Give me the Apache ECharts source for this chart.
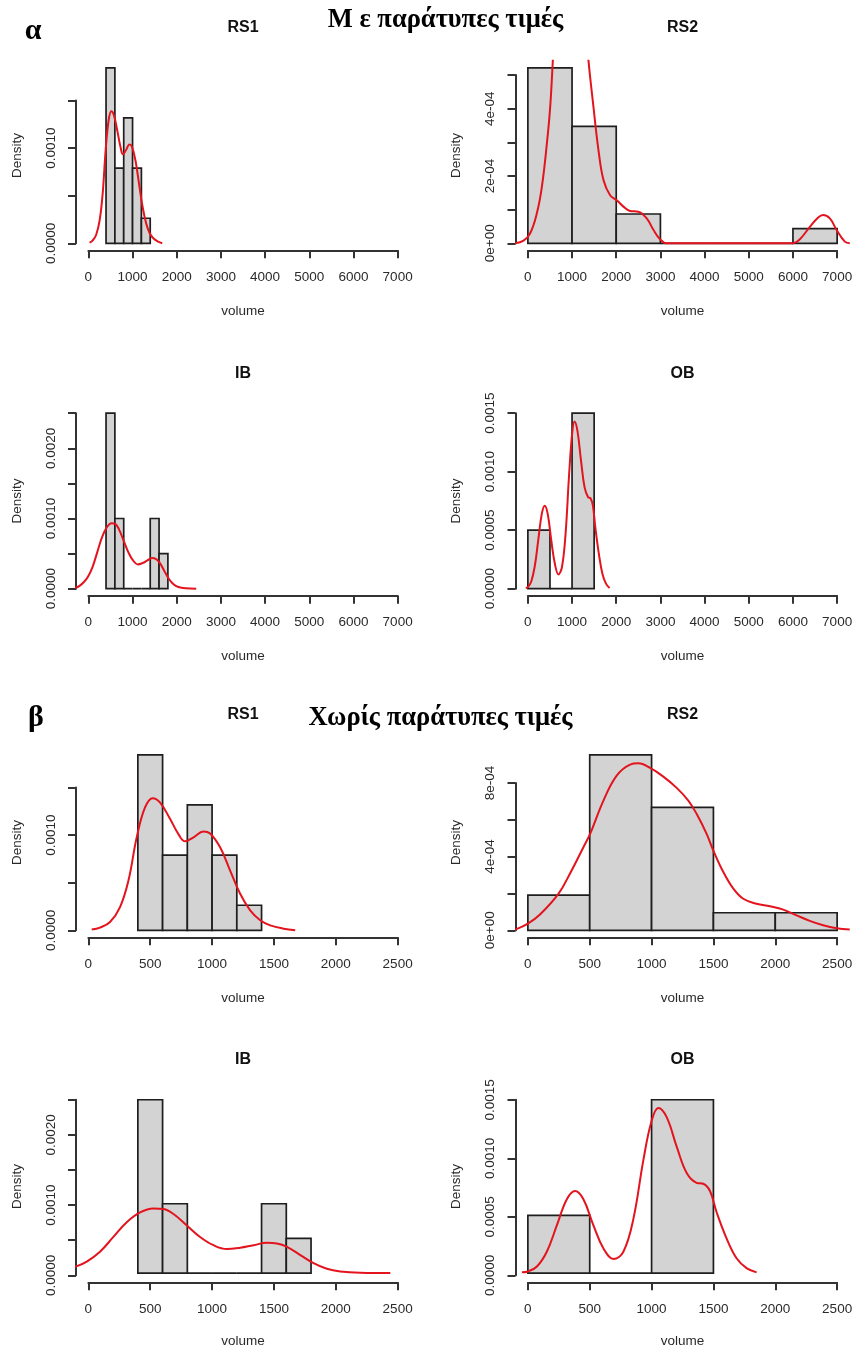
<!DOCTYPE html>
<html><head><meta charset="utf-8">
<script src="https://cdn.jsdelivr.net/npm/echarts@6/dist/echarts.min.js"></script>
<style>html,body{margin:0;padding:0;background:#fff}#c{width:856px;height:1349px}</style>
</head><body><div id="c"></div>
<script>
// ================= DATA =================
// tick labels
const xTicksWide = [0, 1000, 2000, 3000, 4000, 5000, 6000, 7000];
const xTicksNarrow = [0, 500, 1000, 1500, 2000, 2500];
const yLabelsRS1 = ['0.0000', '', '0.0010', ''];
const yLabelsIB = ['0.0000', '', '0.0010', '', '0.0020', ''];
const yLabelsOB = ['0.0000', '0.0005', '0.0010', '0.0015'];
const yLabelsRS2All = ['0e+00', '', '2e-04', '', '4e-04', ''];
const yLabelsRS2 = ['0e+00', '', '4e-04', '', '8e-04'];

// RS1 histogram (same data in α and β)
const rs1Breaks = [400, 600, 800, 1000, 1200, 1400];
const rs1Density = [0.001842, 0.000789, 0.001316, 0.000789, 0.000263];
const rs1CurveX = [27, 94, 175, 256, 324, 391, 458, 520, 580, 661, 728, 782, 850, 930, 984, 1065, 1146, 1227, 1308, 1389, 1470, 1578, 1672];
const rs1CurveY = [0.000007, 0.000028, 0.000087, 0.000244, 0.000523, 0.000976, 0.001289, 0.001387, 0.001341, 0.001167, 0.001010, 0.000934, 0.000976, 0.001038, 0.001017, 0.000871, 0.000627, 0.000383, 0.000209, 0.000105, 0.000052, 0.000017, 0.000001];

// RS2 with outliers (α)
const rs2AllBreaks = [0, 1000, 2000, 3000, 4000, 5000, 6000, 7000];
const rs2AllDensity = [5.217e-4, 3.478e-4, 0.870e-4, 0, 0, 0, 0.435e-4];
const rs2AllCurveX = [-286, -98, 53, 203, 317, 430, 505, 565, 580, 970, 1360, 1372, 1485, 1598, 1711, 1861, 2012, 2163, 2313, 2502, 2690, 2841, 2992, 3142, 6006, 6157, 6383, 6571, 6684, 6835, 6986, 7174, 7287];
const rs2AllCurveY = [0, 0.08e-4, 0.30e-4, 0.89e-4, 1.68e-4, 2.96e-4, 4.05e-4, 5.43e-4, 5.8e-4, null, 5.8e-4, 5.43e-4, 4.05e-4, 2.77e-4, 1.88e-4, 1.43e-4, 1.28e-4, 1.09e-4, 0.96e-4, 0.94e-4, 0.74e-4, 0.40e-4, 0.12e-4, 0, 0, 0.12e-4, 0.49e-4, 0.77e-4, 0.84e-4, 0.74e-4, 0.40e-4, 0.05e-4, 0];

// IB histogram (same in α and β)
const ibBreaks = [400, 600, 800, 1000, 1200, 1400, 1600, 1800];
const ibDensity = [0.0025, 0.0010, 0, 0, 0, 0.0010, 0.0005];
const ibCurveX = [-300, -200, -100, -13, 94, 202, 310, 418, 526, 607, 688, 796, 903, 1011, 1119, 1227, 1335, 1443, 1524, 1605, 1713, 1820, 1928, 2036, 2198, 2441];
const ibCurveY = [0.00001, 0.00004, 0.0000947, 0.000166, 0.000308, 0.000521, 0.000734, 0.000876, 0.000933, 0.000923, 0.000852, 0.000687, 0.000521, 0.000402, 0.000346, 0.000365, 0.000402, 0.000436, 0.000426, 0.000379, 0.000260, 0.000142, 0.0000616, 0.0000237, 0.0000047, 0];

// OB histogram (same in α and β)
const obBreaks = [0, 500, 1000, 1500];
const obDensity = [0.0005, 0, 0.0015];
const obCurveX = [-48, 0, 73, 153, 234, 315, 382, 449, 530, 611, 692, 772, 853, 934, 1001, 1055, 1122, 1203, 1284, 1364, 1418, 1472, 1526, 1607, 1687, 1768, 1849];
const obCurveY = [0.000006, 0.000014, 0.000057, 0.000185, 0.000412, 0.000639, 0.000710, 0.000639, 0.000412, 0.000213, 0.000122, 0.000185, 0.000469, 0.000980, 0.001321, 0.001429, 0.001349, 0.001094, 0.000866, 0.000781, 0.000773, 0.000710, 0.000526, 0.000298, 0.000128, 0.000043, 0.000006];

// RS2 without outliers (β)
const rs2Breaks = [0, 500, 1000, 1500, 2000, 2500];
const rs2Density = [1.905e-4, 9.524e-4, 6.667e-4, 0.952e-4, 0.952e-4];
const rs2CurveX = [-102, 0, 100, 248, 342, 449, 503, 611, 718, 826, 893, 988, 1095, 1203, 1297, 1364, 1445, 1499, 1580, 1661, 1741, 1849, 1956, 2064, 2172, 2279, 2387, 2495, 2602];
const rs2CurveY = [0.036e-4, 0.36e-4, 0.87e-4, 1.99e-4, 3.10e-4, 4.51e-4, 5.23e-4, 7.04e-4, 8.39e-4, 8.99e-4, 9.06e-4, 8.81e-4, 8.34e-4, 7.73e-4, 7.04e-4, 6.32e-4, 5.23e-4, 4.33e-4, 3.16e-4, 2.26e-4, 1.71e-4, 1.44e-4, 1.30e-4, 1.12e-4, 0.81e-4, 0.51e-4, 0.27e-4, 0.11e-4, 0.04e-4];

// ================= LAYOUT =================
const LEFT_X = [76, 515.5];
const PLOT_W = 334;
const ROW_BOTTOM = [250.3, 595.7, 937.3, 1282.3];
const PLOT_H = 189.5;
const EXT = 0.04;

const panels = [
  {row: 0, col: 0, title: 'RS1', breaks: rs1Breaks, dens: rs1Density, cx: rs1CurveX, cy: rs1CurveY, xTicks: xTicksWide, yStep: 0.0005, yLabels: yLabelsRS1},
  {row: 0, col: 1, title: 'RS2', breaks: rs2AllBreaks, dens: rs2AllDensity, cx: rs2AllCurveX, cy: rs2AllCurveY, xTicks: xTicksWide, yStep: 1e-4, yLabels: yLabelsRS2All},
  {row: 1, col: 0, title: 'IB', breaks: ibBreaks, dens: ibDensity, cx: ibCurveX, cy: ibCurveY, xTicks: xTicksWide, yStep: 0.0005, yLabels: yLabelsIB},
  {row: 1, col: 1, title: 'OB', breaks: obBreaks, dens: obDensity, cx: obCurveX, cy: obCurveY, xTicks: xTicksWide, yStep: 0.0005, yLabels: yLabelsOB},
  {row: 2, col: 0, title: 'RS1', breaks: rs1Breaks, dens: rs1Density, cx: rs1CurveX, cy: rs1CurveY, xTicks: xTicksNarrow, yStep: 0.0005, yLabels: yLabelsRS1},
  {row: 2, col: 1, title: 'RS2', breaks: rs2Breaks, dens: rs2Density, cx: rs2CurveX, cy: rs2CurveY, xTicks: xTicksNarrow, yStep: 2e-4, yLabels: yLabelsRS2},
  {row: 3, col: 0, title: 'IB', breaks: ibBreaks, dens: ibDensity, cx: ibCurveX, cy: ibCurveY, xTicks: xTicksNarrow, yStep: 0.0005, yLabels: yLabelsIB},
  {row: 3, col: 1, title: 'OB', breaks: obBreaks, dens: obDensity, cx: obCurveX, cy: obCurveY, xTicks: xTicksNarrow, yStep: 0.0005, yLabels: yLabelsOB}
];

const SANS = '"Liberation Sans", Arial, sans-serif';
const SERIF = '"Liberation Serif", "Times New Roman", serif';
const AXIS_COLOR = '#333';
const TEXT_COLOR = '#2a2a2a';

const grids = [], xAxes = [], yAxes = [], series = [], graphics = [];

panels.forEach((p, i) => {
  const xlo = p.xTicks[0], xhi = p.xTicks[p.xTicks.length - 1];
  const xr = xhi - xlo;
  const ymax = Math.max(...p.dens);
  const left = LEFT_X[p.col], bottom = ROW_BOTTOM[p.row], top = bottom - PLOT_H;
  const sx = PLOT_W / (xr * (1 + 2 * EXT));
  const sy = PLOT_H / (ymax * (1 + 2 * EXT));
  const gPlot = 2 * i, gAxis = 2 * i + 1;

  // plot region (R 'plot' region with 4% extension)
  grids.push({left: left, top: top, width: PLOT_W, height: PLOT_H});
  xAxes.push({
    gridIndex: gPlot, type: 'value', min: xlo - EXT * xr, max: xhi + EXT * xr,
    axisLine: {show: false, onZero: false}, axisTick: {show: false}, axisLabel: {show: false}, splitLine: {show: false},
    name: 'volume', nameLocation: 'middle', nameGap: 54,
    nameTextStyle: {fontFamily: SANS, fontSize: 13.5, color: TEXT_COLOR}
  });
  yAxes.push({
    gridIndex: gPlot, type: 'value', min: -EXT * ymax, max: (1 + EXT) * ymax,
    axisLine: {show: false, onZero: false}, axisTick: {show: false}, axisLabel: {show: false}, splitLine: {show: false},
    name: 'Density', nameLocation: 'middle', nameGap: 52, nameRotate: 90,
    nameTextStyle: {fontFamily: SANS, fontSize: 13.5, color: TEXT_COLOR}
  });

  // axis region (axes span first tick to last tick, offset like R)
  const yTop = (p.yLabels.length - 1) * p.yStep;
  const px0 = left + EXT * xr * sx, px1 = px0 + xr * sx;
  const py0 = bottom - EXT * ymax * sy, pyT = py0 - yTop * sy;
  grids.push({left: px0, top: pyT, width: px1 - px0, height: py0 - pyT});
  const xStep = p.xTicks[1] - p.xTicks[0];
  xAxes.push({
    gridIndex: gAxis, type: 'value', min: xlo, max: xhi, interval: xStep,
    position: 'bottom', offset: bottom - py0,
    axisLine: {show: true, onZero: false, lineStyle: {color: AXIS_COLOR, width: 2}},
    axisTick: {show: true, length: 8, lineStyle: {color: AXIS_COLOR, width: 2}},
    splitLine: {show: false},
    axisLabel: {
      show: true, margin: 20, fontFamily: SANS, fontSize: 13.5, color: TEXT_COLOR,
      showMinLabel: true, showMaxLabel: true,
      formatter: v => { const k = p.xTicks.findIndex(t => Math.abs(t - v) < xStep / 100); return k >= 0 ? String(p.xTicks[k]) : ''; }
    }
  });
  yAxes.push({
    gridIndex: gAxis, type: 'value', min: 0, max: yTop, interval: p.yStep,
    position: 'left', offset: px0 - left,
    axisLine: {show: true, onZero: false, lineStyle: {color: AXIS_COLOR, width: 2}},
    axisTick: {show: true, length: 8, lineStyle: {color: AXIS_COLOR, width: 2}},
    splitLine: {show: false},
    axisLabel: {
      show: true, margin: 18, rotate: 90, fontFamily: SANS, fontSize: 13.5, color: TEXT_COLOR,
      showMinLabel: true, showMaxLabel: true,
      formatter: v => { const k = Math.round(v / p.yStep); return (Math.abs(v - k * p.yStep) < p.yStep / 100 && p.yLabels[k] !== undefined) ? p.yLabels[k] : ''; }
    }
  });

  // histogram bars
  series.push({
    type: 'custom', xAxisIndex: gPlot, yAxisIndex: gPlot, clip: false, silent: true,
    data: p.dens.map((d, k) => [p.breaks[k], p.breaks[k + 1], d]),
    encode: {x: [0, 1], y: 2},
    renderItem: (params, api) => {
      const a = api.coord([api.value(0), 0]);
      const b = api.coord([api.value(1), api.value(2)]);
      return {
        type: 'polygon',
        shape: {points: [[a[0], a[1]], [b[0], a[1]], [b[0], b[1]], [a[0], b[1]]]},
        style: {fill: '#d3d3d3', stroke: '#1e1e1e', lineWidth: 1.7}
      };
    }
  });
  // density curve
  series.push({
    type: 'line', xAxisIndex: gPlot, yAxisIndex: gPlot, clip: true, silent: true,
    showSymbol: false, symbol: 'none', smooth: 0.4, connectNulls: false,
    lineStyle: {color: '#e3141d', width: 2},
    data: p.cx.map((x, k) => [x, p.cy[k]])
  });

  // panel title
  graphics.push({
    type: 'text', x: left + PLOT_W / 2, y: top - 33,
    style: {text: p.title, font: 'bold 16px ' + SANS, fill: '#111', align: 'center', verticalAlign: 'middle'}
  });
});

graphics.push(
  {type: 'text', x: 33, y: 31, style: {text: 'α', font: 'bold 30px ' + SERIF, fill: '#000', align: 'center', verticalAlign: 'middle'}},
  {type: 'text', x: 445.5, y: 20.5, style: {text: 'Μ ε παράτυπες τιμές', font: 'bold 26.5px ' + SERIF, fill: '#000', align: 'center', verticalAlign: 'middle'}},
  {type: 'text', x: 36, y: 718, style: {text: 'β', font: 'bold 30px ' + SERIF, fill: '#000', align: 'center', verticalAlign: 'middle'}},
  {type: 'text', x: 440.5, y: 718, style: {text: 'Χωρίς παράτυπες τιμές', font: 'bold 26.5px ' + SERIF, fill: '#000', align: 'center', verticalAlign: 'middle'}}
);

const chart = echarts.init(document.getElementById('c'), null, {renderer: 'canvas'});
chart.setOption({
  animation: false,
  backgroundColor: '#fff',
  grid: grids, xAxis: xAxes, yAxis: yAxes, series: series,
  graphic: {elements: graphics}
});
</script></body></html>
